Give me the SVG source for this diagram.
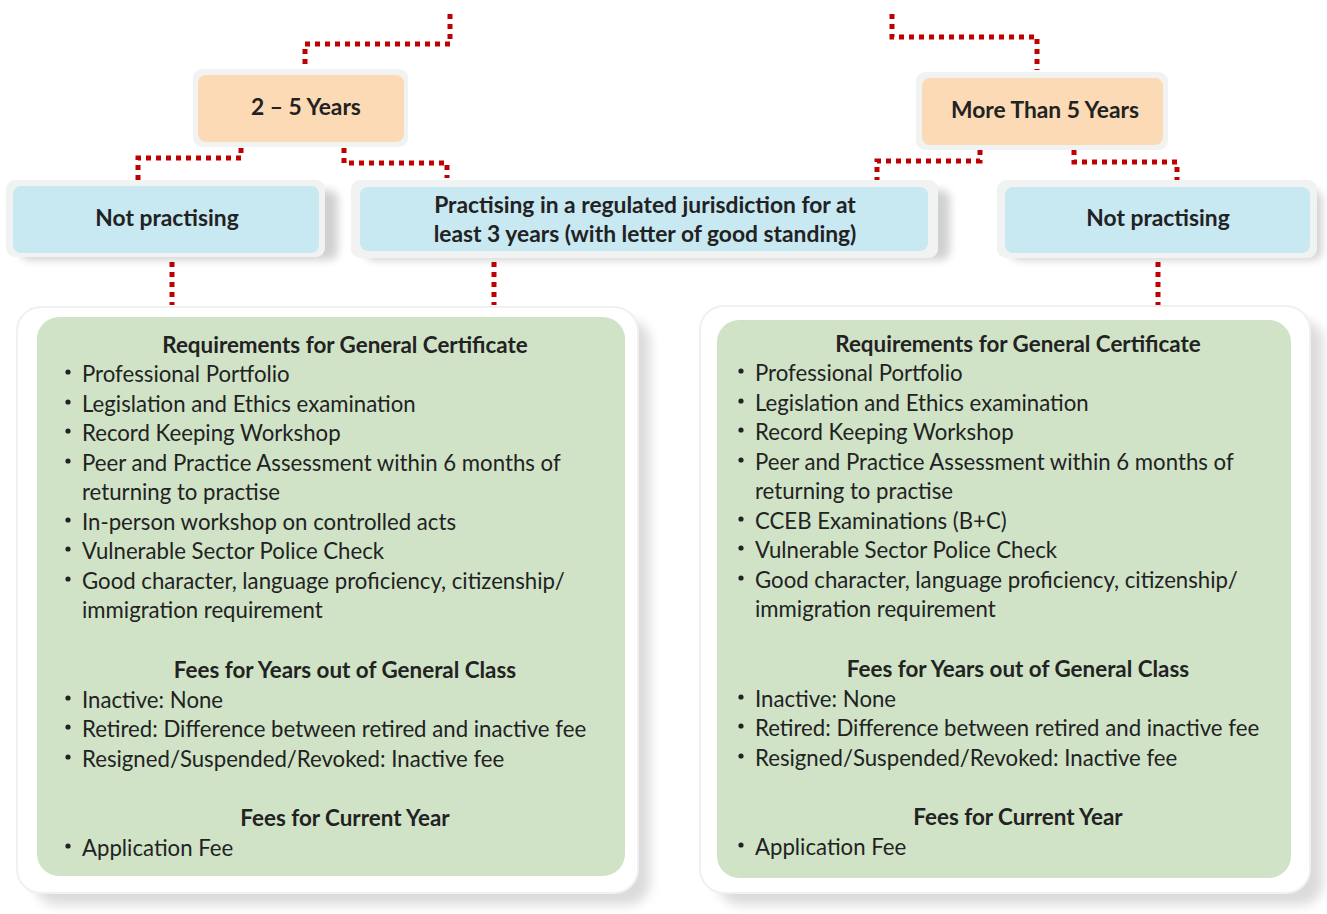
<svg xmlns="http://www.w3.org/2000/svg" width="1327" height="914" viewBox="0 0 1327 914">
<style>
.conn{fill:none;stroke:#C00000;stroke-width:5;stroke-dasharray:5 5}
.outer{fill:#F1F3F2}
.peach{fill:#FBDAB5}
.blue{fill:#C8E8F2}
.card{fill:#FFFFFF}
.green{fill:#D0E3C7}
.t{font-family:Lato,"Liberation Sans",sans-serif;fill:#222222}
.b{font-weight:bold;font-size:22.8px;text-anchor:middle}
.h{font-weight:bold;font-size:22.4px;text-anchor:middle}
.i{font-size:22.2px}
</style>
<defs>
<filter id="sh" x="-10%" y="-10%" width="130%" height="140%">
<feGaussianBlur stdDeviation="4"/>
</filter>
<filter id="sh2" x="-10%" y="-10%" width="130%" height="130%">
<feGaussianBlur stdDeviation="6"/>
</filter>
</defs>
<rect width="1327" height="914" fill="#FFFFFF"/>
<g id="connectors">
<path class="conn" d="M450 14 V44 H305 V68"/>
<path class="conn" d="M241 148 V158 H138 V180"/>
<path class="conn" d="M344 148 V163 H447 V178"/>
<path class="conn" d="M172 262 V305"/>
<path class="conn" d="M494 262 V305"/>
<path class="conn" d="M892 14 V37 H1037 V70"/>
<path class="conn" d="M980 150 V161 H877 V180"/>
<path class="conn" d="M1074 150 V162 H1177 V180"/>
<path class="conn" d="M1158 262 V305"/>
</g>
<g id="node-2-5">
<rect class="outer" x="193" y="69" width="215" height="78" rx="9"/>
<rect class="peach" x="198" y="75" width="206" height="67" rx="8"/>
<text class="t b" x="306" y="115">2 – 5 Years</text>
</g>
<g id="node-more5">
<rect class="outer" x="916" y="72" width="252" height="78" rx="9"/>
<rect class="peach" x="922" y="78" width="241" height="67" rx="8"/>
<text class="t b" x="1045" y="118">More Than 5 Years</text>
</g>
<g id="node-notprac-left">
<rect x="20" y="190" width="318" height="70" rx="9" fill="#000" opacity="0.18" filter="url(#sh)"/>
<rect class="outer" x="6" y="180" width="319" height="77" rx="9"/>
<rect class="blue" x="13" y="186" width="306" height="67" rx="8"/>
<text class="t b" x="167" y="226">Not practising</text>
</g>
<g id="node-practising">
<rect x="365" y="190" width="585" height="70" rx="9" fill="#000" opacity="0.18" filter="url(#sh)"/>
<rect class="outer" x="351" y="180" width="587" height="78" rx="9"/>
<rect class="blue" x="360" y="187" width="568" height="64" rx="8"/>
<text class="t b" x="645" y="213">Practising in a regulated jurisdiction for at</text>
<text class="t b" x="645" y="242">least 3 years (with letter of good standing)</text>
</g>
<g id="node-notprac-right">
<rect x="1010" y="190" width="312" height="70" rx="9" fill="#000" opacity="0.18" filter="url(#sh)"/>
<rect class="outer" x="997" y="180" width="320" height="78" rx="9"/>
<rect class="blue" x="1005" y="187" width="305" height="66" rx="8"/>
<text class="t b" x="1158" y="226">Not practising</text>
</g>
<g id="card-left">
<rect x="35" y="320" width="615" height="585" rx="22" fill="#000" opacity="0.14" filter="url(#sh2)"/>
<rect class="card" x="17" y="307" width="621" height="586" rx="24" stroke="#F0F0F0" stroke-width="2"/>
<rect class="green" x="37" y="317" width="588" height="559" rx="22"/>
<text class="t h" x="345" y="353">Requirements for General Certificate</text>
<g class="t i">
<text x="82" y="382">Professional Portfolio</text>
<text x="82" y="412">Legislation and Ethics examination</text>
<text x="82" y="441">Record Keeping Workshop</text>
<text x="82" y="471">Peer and Practice Assessment within 6 months of</text>
<text x="82" y="500">returning to practise</text>
<text x="82" y="530">In-person workshop on controlled acts</text>
<text x="82" y="559">Vulnerable Sector Police Check</text>
<text x="82" y="589">Good character, language proficiency, citizenship/</text>
<text x="82" y="618">immigration requirement</text>
<text x="82" y="708">Inactive: None</text>
<text x="82" y="737">Retired: Difference between retired and inactive fee</text>
<text x="82" y="767">Resigned/Suspended/Revoked: Inactive fee</text>
<text x="82" y="856">Application Fee</text>
</g>
<g fill="#222">
<circle cx="68" cy="372" r="2.6"/><circle cx="68" cy="402" r="2.6"/><circle cx="68" cy="431" r="2.6"/><circle cx="68" cy="461" r="2.6"/><circle cx="68" cy="520" r="2.6"/><circle cx="68" cy="549" r="2.6"/><circle cx="68" cy="579" r="2.6"/><circle cx="68" cy="698" r="2.6"/><circle cx="68" cy="727" r="2.6"/><circle cx="68" cy="757" r="2.6"/><circle cx="68" cy="846" r="2.6"/>
</g>
<text class="t h" x="345" y="678">Fees for Years out of General Class</text>
<text class="t h" x="345" y="826">Fees for Current Year</text>
</g>
<g id="card-right">
<rect x="718" y="320" width="605" height="585" rx="22" fill="#000" opacity="0.14" filter="url(#sh2)"/>
<rect class="card" x="700" y="306" width="610" height="587" rx="24" stroke="#F0F0F0" stroke-width="2"/>
<rect class="green" x="717" y="320" width="574" height="558" rx="22"/>
<text class="t h" x="1018" y="352">Requirements for General Certificate</text>
<g class="t i">
<text x="755" y="381">Professional Portfolio</text>
<text x="755" y="411">Legislation and Ethics examination</text>
<text x="755" y="440">Record Keeping Workshop</text>
<text x="755" y="470">Peer and Practice Assessment within 6 months of</text>
<text x="755" y="499">returning to practise</text>
<text x="755" y="529">CCEB Examinations (B+C)</text>
<text x="755" y="558">Vulnerable Sector Police Check</text>
<text x="755" y="588">Good character, language proficiency, citizenship/</text>
<text x="755" y="617">immigration requirement</text>
<text x="755" y="707">Inactive: None</text>
<text x="755" y="736">Retired: Difference between retired and inactive fee</text>
<text x="755" y="766">Resigned/Suspended/Revoked: Inactive fee</text>
<text x="755" y="855">Application Fee</text>
</g>
<g fill="#222">
<circle cx="741" cy="371" r="2.6"/><circle cx="741" cy="401" r="2.6"/><circle cx="741" cy="430" r="2.6"/><circle cx="741" cy="460" r="2.6"/><circle cx="741" cy="519" r="2.6"/><circle cx="741" cy="548" r="2.6"/><circle cx="741" cy="578" r="2.6"/><circle cx="741" cy="697" r="2.6"/><circle cx="741" cy="726" r="2.6"/><circle cx="741" cy="756" r="2.6"/><circle cx="741" cy="845" r="2.6"/>
</g>
<text class="t h" x="1018" y="677">Fees for Years out of General Class</text>
<text class="t h" x="1018" y="825">Fees for Current Year</text>
</g>
</svg>
